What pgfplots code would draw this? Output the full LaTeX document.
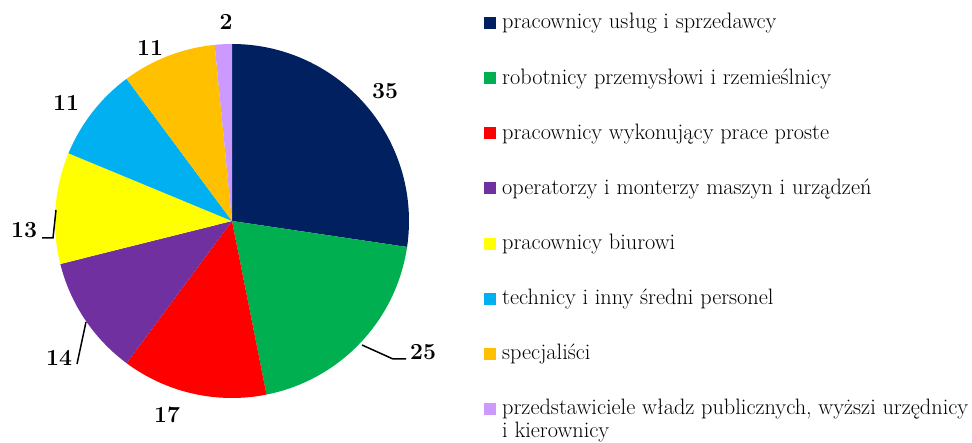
\documentclass[border=0pt]{standalone}
\usepackage{fontspec}
\usepackage{pgfplots}
\usepackage{pgfplotstable}
\pgfplotsset{compat=1.18}
\definecolor{cA}{HTML}{002060}
\definecolor{cB}{HTML}{00B050}
\definecolor{cC}{HTML}{FF0000}
\definecolor{cD}{HTML}{7030A0}
\definecolor{cE}{HTML}{FFFF00}
\definecolor{cF}{HTML}{00B0F0}
\definecolor{cG}{HTML}{FFC000}
\definecolor{cH}{HTML}{CC99FF}
\pgfplotstableread{
value
35
25
17
14
13
11
11
2
}\piedata
\begin{document}
\begin{tikzpicture}
\begin{axis}[
  scale only axis, width=972pt, height=443pt,
  xmin=0, xmax=972, ymin=0, ymax=443,
  enlargelimits=false, hide axis, clip=false,
]
\path (axis cs:0,0) rectangle (axis cs:972,443);
\pgfplotsextra{%
  \gdef\total{0}%
  \foreach \i in {0,...,7}{%
    \pgfplotstablegetelem{\i}{value}\of\piedata
    \pgfmathsetmacro\tmp{\total+\pgfplotsretval}%
    \xdef\total{\tmp}%
  }%
  \gdef\cum{0}%
  \foreach \i/\col in {0/cA,1/cB,2/cC,3/cD,4/cE,5/cF,6/cG,7/cH}{%
    \pgfplotstablegetelem{\i}{value}\of\piedata
    \pgfmathsetmacro\aS{90-360/\total*\cum}%
    \pgfmathsetmacro\aE{90-360/\total*(\cum+\pgfplotsretval)}%
    \fill[\col] (axis cs:232,222) -- ++(\aS:177pt) arc[start angle=\aS,end angle=\aE,radius=177pt] -- cycle;
    \pgfmathsetmacro\tmp{\cum+\pgfplotsretval}%
    \xdef\cum{\tmp}%
  }%
  % legend
  \foreach \k/\col/\txt in {0/cA/{pracownicy usług i sprzedawcy},
    1/cB/{robotnicy przemysłowi i rzemieślnicy},
    2/cC/{pracownicy wykonujący prace proste},
    3/cD/{operatorzy i monterzy maszyn i urządzeń},
    4/cE/{pracownicy biurowi},
    5/cF/{technicy i inny średni personel},
    6/cG/{specjaliści},
    7/cH/{przedstawiciele władz publicznych, wyższi urzędnicy}}{%
    \fill[\col] (axis cs:484,{443-17-55.14*\k}) rectangle (axis cs:496,{443-29-55.14*\k});
    \node[font=\fontsize{22.3}{24}\selectfont, inner sep=0pt, anchor=base west] at (axis cs:502,{443-29-55.14*\k}) {\txt};
  }%
}
\node[font=\fontsize{22.3}{24}\selectfont, inner sep=0pt, anchor=base west] at (axis cs:502,{443-29-55.14*7-23}) {i kierownicy};
% value labels
\begin{scope}[every node/.style={font=\bfseries\fontsize{23}{23}\selectfont, inner sep=0pt}]
\node at (axis cs:385,352) {35};
\node at (axis cs:423,91) {25};
\node at (axis cs:167,28) {17};
\node at (axis cs:59,85) {14};
\node at (axis cs:24,213) {13};
\node at (axis cs:66,340) {11};
\node at (axis cs:150,395) {11};
\node at (axis cs:226,421) {2};
\end{scope}
\draw[black, line width=1.5pt] (axis cs:362,98) -- (axis cs:393,84) -- (axis cs:406,84);
\draw[black, line width=1.5pt] (axis cs:86,121) -- (axis cs:77,79);
\draw[black, line width=1.5pt] (axis cs:56,233) -- (axis cs:53,205) -- (axis cs:42,205);
\end{axis}
\end{tikzpicture}
\end{document}
